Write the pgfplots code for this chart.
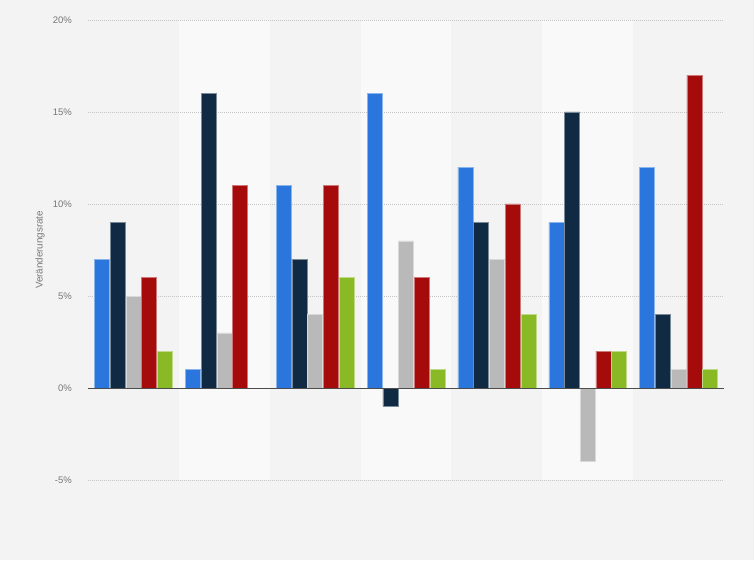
\documentclass[border=0pt]{standalone}
\usepackage{pgfplots}
\pgfplotsset{compat=1.18}
\usepackage{fontspec}
\setmainfont{Liberation Sans}

\definecolor{bg}{HTML}{F3F3F3}
\definecolor{band}{HTML}{F9F9F9}
\definecolor{sblue}{HTML}{2A76DD}
\definecolor{snavy}{HTML}{0F2A42}
\definecolor{sgray}{HTML}{B9B9B9}
\definecolor{sred}{HTML}{A50B0B}
\definecolor{sgreen}{HTML}{89BA26}
\definecolor{txt}{HTML}{777777}

\pgfplotsset{
  base/.style={
    scale only axis, width=636pt, height=460pt,
    at={(88pt,80pt)}, anchor=south west,
    xmin=-0.5, xmax=6.5, ymin=-5, ymax=20,
    axis line style={draw=none},
    major tick length=0pt,
    xtick=\empty,
  },
}

\begin{document}
\begin{tikzpicture}
\fill[bg] (0,0) rectangle (754pt,560pt);

% alternating column bands
\begin{axis}[base, ytick=\empty]
  \fill[band] (axis cs:0.5,-5) rectangle (axis cs:1.5,20);
  \fill[band] (axis cs:2.5,-5) rectangle (axis cs:3.5,20);
  \fill[band] (axis cs:4.5,-5) rectangle (axis cs:5.5,20);
\end{axis}

\begin{axis}[base,
  ybar=0.7pt, bar width=15pt,
  ytick={-5,0,5,10,15,20},
  ymajorgrids,
  grid style={gray!45, line width=0.5pt, dash pattern=on 1pt off 1pt},
  /pgf/number format/assume math mode=true,
  yticklabel={\pgfmathprintnumber{\tick}\%},
  yticklabel style={font=\fontsize{9.5}{11}\selectfont, text=txt, inner sep=0pt, xshift=-16pt},
  ylabel={Veränderungsrate},
  every axis y label/.style={at={(axis description cs:0,0.5)}, rotate=90, anchor=center,
    yshift=48pt, font=\fontsize{9.8}{11}\selectfont, text=txt},
]
\addplot[fill=sblue, draw=sblue!55!white, line width=0.4pt] coordinates
  {(0,7) (1,1) (2,11) (3,16) (4,12) (5,9) (6,12)};
\addplot[fill=snavy, draw=snavy!55!white, line width=0.4pt] coordinates
  {(0,9) (1,16) (2,7) (3,-1) (4,9) (5,15) (6,4)};
\addplot[fill=sgray, draw=sgray!55!white, line width=0.4pt] coordinates
  {(0,5) (1,3) (2,4) (3,8) (4,7) (5,-4) (6,1)};
\addplot[fill=sred, draw=sred!55!white, line width=0.4pt] coordinates
  {(0,6) (1,11) (2,11) (3,6) (4,10) (5,2) (6,17)};
\addplot[fill=sgreen, draw=sgreen!55!white, line width=0.4pt] coordinates
  {(0,2) (2,6) (3,1) (4,4) (5,2) (6,1)};
\draw[black!70, line width=1pt] (axis cs:-0.5,0) -- (axis cs:6.5,0);
\end{axis}

\pgfresetboundingbox
\path (0,0) rectangle (754pt,560pt);
\end{tikzpicture}
\end{document}
